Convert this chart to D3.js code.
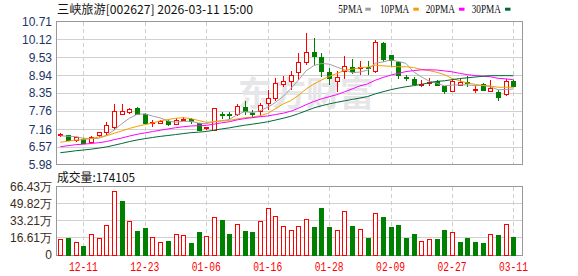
<!DOCTYPE html>
<html>
<head>
<meta charset="utf-8">
<script src="https://cdn.jsdelivr.net/npm/d3@7"></script>
<style>
  body { margin: 0; background: #fff; }
  svg { display: block; }
</style>
</head>
<body>
<svg id="chart" width="578" height="276"></svg>
<script>
// trading days shown (MM-DD)
const dates = [
  '12-08','12-09','12-10','12-11','12-12','12-15','12-16','12-17','12-18','12-19',
  '12-22','12-23','12-24','12-25','12-26','12-29','12-30','12-31','01-05','01-06',
  '01-07','01-08','01-09','01-12','01-13','01-14','01-15','01-16','01-19','01-20',
  '01-21','01-22','01-23','01-26','01-27','01-28','01-29','01-30','02-02','02-03',
  '02-04','02-05','02-06','02-09','02-10','02-11','02-12','02-13','02-24','02-25',
  '02-26','02-27','03-02','03-03','03-04','03-05','03-06','03-09','03-10','03-11',
];
const opens = [
  6.98, 6.94, 6.78, 6.83, 6.73, 6.95, 7.05, 7.22, 7.65, 7.72,
  7.83, 7.64, 7.37, 7.35, 7.42, 7.31, 7.47, 7.49, 7.35, 7.17,
  7.11, 7.64, 7.63, 7.63, 7.88, 7.68, 7.73, 8.01, 8.16, 8.63,
  8.72, 9.04, 9.36, 9.68, 9.54, 9.02, 8.72, 9.07, 9.20, 9.18,
  9.20, 9.07, 10.00, 9.58, 9.36, 8.86, 8.81, 8.63, 8.69, 8.73,
  8.56, 8.40, 8.59, 8.69, 8.47, 8.62, 8.40, 8.37, 8.29, 8.73,
];
const highs = [
  7.05, 6.97, 6.90, 6.86, 6.95, 7.08, 7.41, 7.99, 7.98, 7.86,
  7.88, 7.69, 7.46, 7.47, 7.46, 7.54, 7.55, 7.53, 7.38, 7.23,
  7.85, 7.74, 7.74, 7.99, 8.10, 7.80, 8.02, 8.47, 8.85, 8.90,
  9.09, 9.68, 10.34, 10.17, 9.69, 9.17, 9.08, 9.58, 9.48, 9.40,
  9.42, 10.09, 10.04, 9.61, 9.41, 8.95, 8.88, 8.79, 8.84, 8.79,
  8.59, 8.81, 8.81, 8.90, 8.57, 8.68, 8.79, 8.46, 8.81, 8.79,
];
const lows = [
  6.91, 6.76, 6.75, 6.66, 6.69, 6.91, 6.97, 7.14, 7.64, 7.65,
  7.63, 7.32, 7.24, 7.33, 7.28, 7.30, 7.42, 7.34, 7.10, 7.14,
  7.09, 7.49, 7.50, 7.60, 7.63, 7.52, 7.60, 7.80, 8.09, 8.55,
  8.47, 8.79, 9.28, 9.28, 8.87, 8.62, 8.39, 8.82, 8.98, 8.96,
  8.96, 9.03, 9.38, 9.22, 8.82, 8.75, 8.60, 8.56, 8.59, 8.57,
  8.31, 8.39, 8.57, 8.55, 8.35, 8.44, 8.38, 8.10, 8.27, 8.54,
];
const closes = [
  6.99, 6.78, 6.87, 6.70, 6.89, 7.04, 7.27, 7.75, 7.74, 7.82,
  7.66, 7.36, 7.39, 7.43, 7.32, 7.45, 7.49, 7.42, 7.13, 7.20,
  7.83, 7.62, 7.61, 7.90, 7.74, 7.66, 7.94, 8.18, 8.68, 8.74,
  8.94, 9.37, 9.70, 9.56, 9.07, 8.85, 8.88, 9.24, 9.08, 9.19,
  9.15, 10.03, 9.45, 9.42, 8.93, 8.84, 8.62, 8.65, 8.70, 8.60,
  8.39, 8.74, 8.70, 8.68, 8.48, 8.45, 8.49, 8.21, 8.73, 8.56,
];
// closes of the 29 days before the window (estimated so the MAs start where the picture does)
const priorCloses = [
  5.90, 5.85, 5.95, 6.05, 6.00, 6.10, 6.05, 6.00, 5.95, 6.05,
  6.10, 6.20, 6.35, 6.45, 6.50, 6.55, 6.50, 6.60, 6.55, 6.50,
  6.45, 6.50, 6.55, 6.50, 6.60, 6.85, 6.92, 6.98, 6.96,
];
// volume in 手
const volumes = [
  146000, 165000, 123000, 78000, 204000, 156000, 289000, 620000, 522000, 328000,
  233000, 253000, 172000, 124000, 136000, 201000, 185000, 114000, 214000, 182000,
  367000, 337000, 204000, 298000, 224000, 214000, 321000, 454000, 373000, 279000,
  240000, 279000, 347000, 263000, 457000, 263000, 240000, 425000, 282000, 250000,
  165000, 399000, 368000, 263000, 289000, 165000, 204000, 136000, 146000, 146000,
  243000, 214000, 126000, 165000, 126000, 107000, 204000, 185000, 292000, 174105,
];
const priceTicks = [5.98, 6.57, 7.16, 7.76, 8.35, 8.94, 9.53, 10.12, 10.71];
const volTicks = [0, 166100, 332100, 498200, 664300];
const labelDates = ['12-11', '12-23', '01-06', '01-16', '01-28', '02-09', '02-27', '03-11'];
const maPeriods = [5, 10, 20, 30];
const maColors = ['#a0a0a0', '#f5a000', '#ff00ff', '#006a35'];

const svg = d3.select('#chart');
const left = 56, right = 522;
const pTop = 21.7, pBottom = 164.9;
const vTop = 186.7, vBottom = 255;
const red = '#ff0000', green = '#008000';

const x = d3.scaleBand().domain(dates).range([56.5, 517.3]);
const cx = (d) => x(d) + x.bandwidth() / 2;
const y = d3.scaleLinear().domain([5.98, 10.71]).range([pBottom, pTop]);
const yv = d3.scaleLinear().domain([0, 664300]).range([vBottom, vTop]);
const bodyW = 5;

// grid
const grid = svg.append('g').attr('shape-rendering', 'crispEdges');
grid.selectAll('.hp').data(priceTicks).join('line')
  .attr('x1', left).attr('x2', right)
  .attr('y1', (d) => y(d)).attr('y2', (d) => y(d))
  .attr('stroke', '#d0d0d0');
grid.selectAll('.hv').data(volTicks).join('line')
  .attr('x1', left).attr('x2', right)
  .attr('y1', (d) => yv(d)).attr('y2', (d) => yv(d))
  .attr('stroke', '#d0d0d0');
[[pTop, pBottom], [vTop, vBottom]].forEach(([a, b]) => {
  grid.append('g').selectAll('line').data(labelDates).join('line')
    .attr('x1', (d) => Math.round(cx(d)) + 0.5).attr('x2', (d) => Math.round(cx(d)) + 0.5)
    .attr('y1', a).attr('y2', b)
    .attr('stroke', '#cfcfcf')
    .attr('stroke-dasharray', '4,3');
});

// watermark
svg.append('text')
  .attr('x', 238).attr('y', 106)
  .attr('font-family', 'Noto Sans CJK SC')
  .attr('font-size', 34).attr('font-weight', 'bold')
  .attr('fill', '#e6e6e9')
  .text('东方财富');

// frames
const frame = svg.append('g').attr('shape-rendering', 'crispEdges')
  .attr('fill', 'none').attr('stroke', '#999');
frame.append('rect').attr('x', left).attr('y', pTop).attr('width', right - left).attr('height', pBottom - pTop);
frame.append('rect').attr('x', left).attr('y', vTop).attr('width', right - left).attr('height', vBottom - vTop);

// candles
const candles = svg.append('g').attr('shape-rendering', 'crispEdges');
const idx = d3.range(dates.length);
const prevClose = (i) => (i === 0 ? priorCloses[priorCloses.length - 1] : closes[i - 1]);
const isUp = (i) => closes[i] > opens[i] || (closes[i] === opens[i] && closes[i] >= prevClose(i));
const c = candles.selectAll('.candle').data(idx).join('g').classed('candle', true);
c.append('line')
  .attr('x1', (i) => Math.round(cx(dates[i])) + 0.5).attr('x2', (i) => Math.round(cx(dates[i])) + 0.5)
  .attr('y1', (i) => y(highs[i])).attr('y2', (i) => y(lows[i]))
  .attr('stroke', (i) => (isUp(i) ? red : green));
c.append('rect')
  .attr('x', (i) => Math.round(cx(dates[i])) - 2 + 0.5)
  .attr('y', (i) => y(Math.max(opens[i], closes[i])))
  .attr('width', bodyW - 1)
  .attr('height', (i) => Math.max(1, Math.abs(y(opens[i]) - y(closes[i]))))
  .attr('fill', (i) => (isUp(i) ? '#fff' : green))
  .attr('stroke', (i) => (isUp(i) ? red : green));

// moving averages
const allCloses = priorCloses.concat(closes);
const off = priorCloses.length;
maPeriods.forEach((n, k) => {
  const ma = idx.map((i) => d3.mean(allCloses.slice(i + off - n + 1, i + off + 1)));
  svg.append('path')
    .datum(ma)
    .attr('fill', 'none')
    .attr('stroke', maColors[k])
    .attr('stroke-width', 1)
    .attr('d', d3.line().x((d, i) => cx(dates[i])).y((d) => y(d)));
});

// volume bars (colour by close vs previous close)
svg.append('g').attr('shape-rendering', 'crispEdges')
  .selectAll('rect').data(idx).join('rect')
  .attr('x', (i) => Math.round(cx(dates[i])) - 2 + 0.5)
  .attr('y', (i) => yv(volumes[i]))
  .attr('width', bodyW - 1)
  .attr('height', (i) => vBottom - yv(volumes[i]))
  .attr('fill', (i) => (closes[i] >= prevClose(i) ? '#fff' : green))
  .attr('stroke', (i) => (closes[i] >= prevClose(i) ? red : green));

// axes
const styleAxis = (g, color) => {
  g.select('.domain').remove();
  g.selectAll('text')
    .attr('font-family', 'Liberation Sans, Arial, sans-serif')
    .attr('font-size', 12)
    .attr('fill', color);
};
svg.append('g')
  .attr('transform', `translate(${left - 1},0)`)
  .call(d3.axisLeft(y).tickValues(priceTicks).tickSize(0).tickPadding(3).tickFormat(d3.format('.2f')))
  .call((g) => styleAxis(g, '#1d3466'));
svg.append('g')
  .attr('transform', `translate(${left - 1},0)`)
  .call(d3.axisLeft(yv).tickValues(volTicks).tickSize(0).tickPadding(3)
    .tickFormat((d) => (d === 0 ? '0' : (d / 10000).toFixed(2) + '万')))
  .call((g) => styleAxis(g, '#3a2c20'));
svg.append('g')
  .attr('transform', `translate(0,${vBottom})`)
  .call(d3.axisBottom(x).tickValues(labelDates).tickSize(0).tickPadding(7))
  .call((g) => {
    g.select('.domain').remove();
    g.selectAll('text')
      .attr('font-family', 'Liberation Mono, monospace')
      .attr('font-size', 12)
      .attr('fill', red)
      .attr('textLength', 29)
      .attr('lengthAdjust', 'spacingAndGlyphs');
  });

// title and labels
svg.append('text')
  .attr('x', 57).attr('y', 13.5)
  .attr('font-family', 'Noto Sans CJK SC, sans-serif')
  .attr('font-size', 12)
  .attr('fill', '#111')
  .attr('textLength', 196)
  .attr('lengthAdjust', 'spacingAndGlyphs')
  .text('三峡旅游[002627] 2026-03-11 15:00');

svg.append('text')
  .attr('x', 57).attr('y', 181.5)
  .attr('font-family', 'Noto Sans CJK SC, sans-serif')
  .attr('font-size', 12)
  .attr('fill', '#111')
  .attr('textLength', 78)
  .attr('lengthAdjust', 'spacingAndGlyphs')
  .text('成交量:' + volumes[volumes.length - 1]);

// legend
const legendX = [338.3, 380, 425.7, 471.7];
const legend = svg.selectAll('.legend-item').data(maPeriods).join('g').classed('legend-item', true);
legend.append('text')
  .attr('x', (d, i) => legendX[i]).attr('y', 13)
  .attr('font-family', 'Liberation Serif, serif')
  .attr('font-size', 12)
  .attr('fill', '#111')
  .attr('textLength', (d) => (d < 10 ? 24.4 : 29.3))
  .attr('lengthAdjust', 'spacingAndGlyphs')
  .text((d) => d + 'PMA');
legend.append('rect')
  .attr('x', (d, i) => legendX[i] + (d < 10 ? 27 : 33.3))
  .attr('y', 7.7).attr('width', 5.5).attr('height', 3)
  .attr('fill', (d, i) => maColors[i]);
</script>
</body>
</html>
